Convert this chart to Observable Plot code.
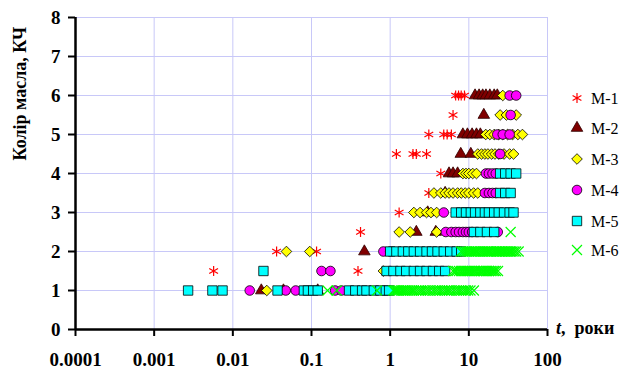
<!DOCTYPE html>
<html><head><meta charset="utf-8">
<script src="https://cdn.jsdelivr.net/npm/d3@7"></script>
<script src="https://cdn.jsdelivr.net/npm/@observablehq/plot@0.6"></script>
<style>
body{margin:0;background:#fff;}
#wrap{position:relative;width:621px;height:370px;overflow:hidden;}
#wrap, #wrap *, #wrap svg text{font-family:Liberation Serif, serif !important;}
#xlabel{position:absolute;left:556px;top:318px;font-weight:bold;font-size:18px;white-space:nowrap;}
</style></head><body><div id="wrap"></div>
<script>
// Tick values
const xTicks = [0.0001, 0.001, 0.01, 0.1, 1, 10, 100];
const yTicks = [0, 1, 2, 3, 4, 5, 6, 7, 8];
const seriesNames = ["М-1", "М-2", "М-3", "М-4", "М-5", "М-6"];

// [t (years), oil colour] per series
const m1 = [[6.8,6],[7.4,6],[8.0,6],[8.8,6],[6.3,5.5],[3.1,5],[4.8,5],[5.3,5],[6.0,5],
  [1.2,4.5],[1.95,4.5],[2.15,4.5],[2.9,4.5],[4.4,4],[3.1,3.5],[1.3,3],[0.42,2.5],
  [0.036,2],[0.116,2],[0.0057,1.5],[0.39,1.5]];
const m2 = [[12,6],[13.5,6],[15,6],[16.5,6],[18.5,6],[21,6],[23,6],[15.5,5.5],
  [8.4,5],[9.6,5],[11,5],[12.5,5],[14,5],[7.9,4.5],[10.6,4.5],[5.6,4],[6.3,4],[7.2,4],
  [5.0,3.5],[3.0,3],[2.15,2.5],[3.8,2.5],[0.47,2],[0.023,1],[0.044,1],[0.12,1]];
const m3 = [[27,6],[25,5.5],[30,5.5],[40,5.5],
  [16.4,5],[18.5,5],[21,5],[24,5],[27,5],[31,5],[36,5],[42,5],[48,5],
  [13,4.5],[14.5,4.5],[16,4.5],[17.5,4.5],[19.5,4.5],[21.5,4.5],[24,4.5],[28,4.5],[33,4.5],[37,4.5],
  [8.4,4],[9.2,4],[10,4],[11.2,4],[12.5,4],
  [3.6,3.5],[4.4,3.5],[5.0,3.5],[5.6,3.5],[6.3,3.5],[7.2,3.5],[8.0,3.5],[9.0,3.5],[10,3.5],[11.5,3.5],[13,3.5],
  [2.0,3],[2.4,3],[2.9,3],[3.3,3],[3.9,3],[1.3,2.5],[1.8,2.5],[3.9,2.5],
  [0.048,2],[0.095,2],[0.82,1.5],[0.027,1]];
const m4 = [[33,6],[40,6],[34,5.5],[23,5],[27,5],[33,5],[25,4.5],
  [16.5,4],[18,4],[20,4],[22,4],[16,3.5],[18,3.5],[20,3.5],[22,3.5],
  [4.8,3],[8.5,3],[9.5,3],
  [5.1,2.5],[6.0,2.5],[6.8,2.5],[7.5,2.5],[8.4,2.5],[9.2,2.5],[10,2.5],[11,2.5],[23.3,2.5],
  [0.82,2],[1.0,2],[0.134,1.5],[0.174,1.5],
  [0.0164,1],[0.047,1],[0.063,1],[0.2,1],[0.24,1]];
const m5 = [[25,4],[29,4],[34,4],[40,4],[25,3.5],[29,3.5],[34,3.5],
  [6.8,3],[8.0,3],[9.2,3],[10.6,3],[12,3],[14,3],[16,3],[18,3],[21,3],[24,3],[28,3],[33,3],[37,3],
  [11.6,2.5],[14,2.5],[17,2.5],[21,2.5],
  [1.0,2],[1.2,2],[1.45,2],[1.7,2],[2.0,2],[2.4,2],[2.9,2],[3.4,2],[4.0,2],[4.8,2],[5.8,2],[7.0,2],[8.0,2],
  [0.0245,1.5],[0.9,1.5],[1.1,1.5],[1.35,1.5],[1.6,1.5],[2.0,1.5],[2.4,1.5],[2.9,1.5],[3.5,1.5],[4.2,1.5],[5.0,1.5],
  [0.0027,1],[0.0055,1],[0.0074,1],[0.037,1],[0.08,1],[0.09,1],[0.105,1],[0.12,1],
  [0.3,1],[0.36,1],[0.44,1],[0.5,1],[0.62,1],[0.75,1],[0.88,1],[0.97,1]];
const m6 = [[34,2.5],
  [8,2],[8.5,2],[9,2],[9.5,2],[10,2],[10.5,2],[11,2],[11.5,2],[12,2],[12.5,2],[13,2],[13.8,2],[14.5,2],[15.2,2],[16,2],[16.8,2],
  [17.5,2],[18.2,2],[19,2],[20,2],[21,2],[22,2],[23,2],[24,2],[25,2],[26.2,2],[27.5,2],[28.7,2],[30,2],[31.5,2],[33,2],[34.5,2],[36,2],[38,2],[40,2],[43,2],
  [6.3,1.5],[6.7,1.5],[7,1.5],[7.5,1.5],[8,1.5],[8.5,1.5],[9,1.5],[9.5,1.5],[10,1.5],[10.5,1.5],[11,1.5],[11.5,1.5],[12,1.5],[12.7,1.5],
  [13.5,1.5],[14.2,1.5],[15,1.5],[15.7,1.5],[16.5,1.5],[17.2,1.5],[18,1.5],[19,1.5],[20,1.5],[21,1.5],[22,1.5],[23.5,1.5],
  [0.16,1],[0.21,1],[0.68,1],[1.1,1],[1.15,1],[1.2,1],[1.25,1],[1.3,1],[1.38,1],[1.45,1],[1.52,1],[1.6,1],[1.7,1],[1.8,1],[1.9,1],[2.0,1],
  [2.15,1],[2.3,1],[2.45,1],[2.6,1],[2.8,1],[3.0,1],[3.2,1],[3.5,1],[3.75,1],[4.0,1],[4.3,1],[4.6,1],[4.95,1],[5.3,1],[5.6,1],[6.0,1],
  [6.5,1],[7.0,1],[7.5,1],[8.0,1],[8.6,1],[9.2,1],[9.8,1],[10.5,1],[11.6,1]];

const rows = a => a.map(([t, y]) => ({t, y}));
const styles = [
  {symbol: "asterisk", fill: "none", stroke: "#ff0000", strokeWidth: 1.2, r: 4.8},
  {symbol: "triangle", fill: "#800000", stroke: "#300000", strokeWidth: 0.8, r: 4.3},
  {symbol: "diamond2", fill: "#ffff00", stroke: "#000000", strokeWidth: 0.8, r: 4.8},
  {symbol: "circle", fill: "#ff00ff", stroke: "#000000", strokeWidth: 0.8, r: 4.8},
  {symbol: "square", fill: "#00ffff", stroke: "#000000", strokeWidth: 0.8, r: 5.3},
  {symbol: "times", fill: "none", stroke: "#00ff00", strokeWidth: 1.2, r: 4.6}
];
const allSeries = [m1, m2, m3, m4, m5, m6];

const grid = "#c8c8f8";
const plot = Plot.plot({
  width: 621, height: 370,
  marginLeft: 75, marginRight: 74, marginTop: 17, marginBottom: 41,
  x: {type: "log", domain: [0.0001, 100]},
  y: {domain: [0, 8]},
  style: {fontFamily: "Liberation Serif, serif", fontWeight: "bold", fontSize: "19px", background: "white", color: "black", overflow: "visible"},
  marks: [
    Plot.gridX(xTicks, {stroke: grid, strokeOpacity: 1, strokeWidth: 1}),
    Plot.gridY(yTicks, {stroke: grid, strokeOpacity: 1, strokeWidth: 1}),
    Plot.axisX(xTicks, {tickFormat: d => String(d), tickSize: 7, tickPadding: 16, strokeWidth: 2, label: null}),
    Plot.axisY(yTicks, {tickSize: 7, tickPadding: 8, strokeWidth: 2, label: null}),
    Plot.ruleX([0.0001], {strokeWidth: 2.5}),
    Plot.ruleY([0], {strokeWidth: 2.5}),
    ...allSeries.map((s, i) => Plot.dot(rows(s), {x: "t", y: "y", ...styles[i]})),
    Plot.text(["Колір масла, КЧ"], {frameAnchor: "left", rotate: -90, dx: -55, dy: -13, fontSize: 18, fontWeight: "bold"})
  ]
});
const wrap = document.getElementById("wrap");
wrap.appendChild(plot);

// x-axis title
const xl = document.createElement("div");
xl.id = "xlabel";
xl.innerHTML = "<i>t</i>,&nbsp; роки";
wrap.appendChild(xl);

// legend
const legendY = [98, 128, 159, 190, 221, 250];
const lg = d3.create("svg").attr("width", 621).attr("height", 370)
  .style("position", "absolute").style("left", "0px").style("top", "0px");
const symMap = {asterisk: d3.symbolAsterisk, triangle: d3.symbolTriangle, diamond2: d3.symbolDiamond2, circle: d3.symbolCircle, square: d3.symbolSquare, times: d3.symbolTimes};
seriesNames.forEach((name, i) => {
  const st = styles[i];
  lg.append("path")
    .attr("transform", `translate(577,${legendY[i]})`)
    .attr("d", d3.symbol(symMap[st.symbol], Math.PI * st.r * st.r)())
    .attr("fill", st.fill).attr("stroke", st.stroke).attr("stroke-width", st.strokeWidth);
  lg.append("text").attr("x", 591).attr("y", legendY[i]).attr("dy", "0.35em")
    .attr("font-size", 16)
    .text(name);
});
wrap.appendChild(lg.node());
</script>
</body></html>
